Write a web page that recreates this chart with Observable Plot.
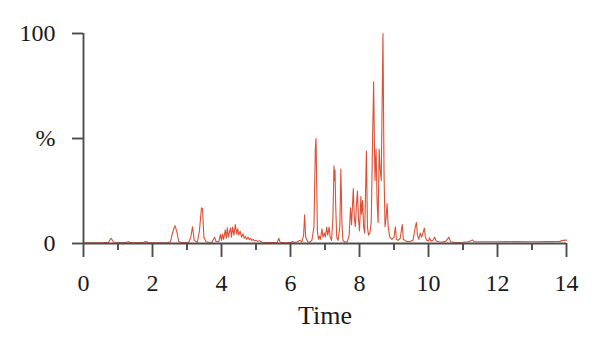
<!DOCTYPE html>
<html>
<head>
<meta charset="utf-8">
<script src="https://cdn.jsdelivr.net/npm/d3@7"></script>
<script src="https://cdn.jsdelivr.net/npm/@observablehq/plot@0.6"></script>
<style>
  html, body { margin: 0; padding: 0; background: #fff; }
  svg { display: block; }
</style>
</head>
<body>
<div id="chart"></div>
<script>
// Retention time (min)
const time = [
  0.00, 0.30, 0.60, 0.72, 0.80, 0.88, 1.00, 1.20, 1.30, 1.40, 1.70, 1.80, 1.90,
  2.40, 2.52, 2.58, 2.65, 2.70, 2.76, 2.85, 3.05, 3.11, 3.16, 3.21, 3.30, 3.36,
  3.42, 3.45, 3.49, 3.55, 3.65, 3.72, 3.80, 3.84, 3.92, 3.97, 4.00, 4.03, 4.06,
  4.11, 4.14, 4.17, 4.20, 4.26, 4.29, 4.32, 4.36, 4.40, 4.44, 4.47, 4.50, 4.54,
  4.58, 4.62, 4.66, 4.69, 4.73, 4.77, 4.81, 4.84, 4.88, 4.92, 4.96, 5.00, 5.05,
  5.10, 5.18, 5.30, 5.50, 5.62, 5.66, 5.70, 5.85, 6.00, 6.06, 6.12, 6.20, 6.28,
  6.33, 6.38, 6.41, 6.44, 6.50, 6.55, 6.62, 6.68, 6.72, 6.74, 6.76, 6.78, 6.81,
  6.84, 6.87, 6.91, 6.94, 6.98, 7.01, 7.05, 7.08, 7.12, 7.15, 7.19, 7.23, 7.26,
  7.28, 7.29, 7.31, 7.34, 7.38, 7.43, 7.46, 7.49, 7.52, 7.58, 7.65, 7.70, 7.74,
  7.77, 7.82, 7.85, 7.88, 7.91, 7.94, 7.97, 8.00, 8.04, 8.06, 8.09, 8.12, 8.15,
  8.20, 8.23, 8.26, 8.30, 8.34, 8.38, 8.41, 8.43, 8.45, 8.48, 8.51, 8.54, 8.57,
  8.60, 8.63, 8.68, 8.71, 8.74, 8.77, 8.80, 8.83, 8.88, 8.94, 9.00, 9.04, 9.07,
  9.12, 9.18, 9.24, 9.27, 9.35, 9.45, 9.55, 9.62, 9.65, 9.68, 9.72, 9.76, 9.80,
  9.84, 9.88, 9.91, 9.95, 10.00, 10.03, 10.07, 10.13, 10.18, 10.22, 10.30, 10.40,
  10.50, 10.59, 10.64, 10.80, 11.00, 11.15, 11.22, 11.27, 11.32, 11.50, 12.00,
  12.50, 13.00, 13.50, 13.80, 13.90, 14.00
];
// Relative abundance (%)
const intensity = [
  0.3, 0.3, 0.4, 0.5, 2.5, 0.5, 0.3, 0.4, 0.8, 0.3, 0.4, 0.9, 0.3,
  0.3, 0.8, 5, 8.5, 6, 1, 0.4, 0.5, 3, 8, 1.5, 0.6, 6,
  17, 16.5, 3, 0.8, 0.6, 0.5, 3, 1, 0.8, 4.3, 1.5, 4.5, 2,
  6.5, 2.5, 7.5, 3, 7.5, 3, 7.8, 4, 9, 4.5, 7, 4, 5.9,
  3, 4.6, 2.5, 3.3, 2, 3, 1.8, 2.5, 1.5, 2.0, 1.2, 1.6, 1.0,
  1.3, 0.6, 0.5, 0.4, 0.6, 2.5, 0.6, 0.3, 0.4, 1, 0.5, 0.8, 1.5,
  0.8, 4, 13.7, 3, 0.8, 0.6, 1.5, 8, 45, 50, 28, 6, 2,
  3.5, 2, 7, 3, 5, 3, 7.8, 4, 7.8, 3, 1.5, 12, 37,
  30, 35, 18, 3, 1.5, 8, 35.5, 10, 1.5, 0.6, 1, 4, 17,
  9, 26, 12, 8, 18, 25, 12, 6, 22.4, 14, 20.5, 8, 5,
  44, 8, 4, 5, 10, 50, 77, 50, 30, 45, 20, 10, 45,
  35, 30, 100, 35, 8, 12, 19, 8, 3, 2, 3, 8, 2,
  1.5, 2.5, 9, 2, 1, 0.8, 1.5, 8, 10, 4, 2, 5, 3,
  5, 7.3, 3, 1.5, 1.3, 2.7, 1.2, 1.5, 3, 1.2, 0.8, 0.7,
  1, 3, 0.8, 0.5, 0.6, 0.8, 1.2, 1.7, 0.9, 0.8, 0.8,
  0.9, 0.8, 0.9, 1.0, 1.5, 1.6
];
const xMajorTicks = [0, 2, 4, 6, 8, 10, 12, 14];
const xMinorTicks = [1, 3, 5, 7, 9, 11, 13];
const yTicks = [0, 50, 100];
const yTickLabels = ["0", "%", "100"];
const xLabel = "Time";

const data = time.map((t, i) => ({t, v: intensity[i]}));
const axisColor = "#4d4d4d";
const font = "'Liberation Serif', 'DejaVu Serif', serif";

const chart = Plot.plot({
  width: 600,
  height: 349,
  marginLeft: 83,
  marginRight: 34,
  marginTop: 33,
  marginBottom: 106,
  style: {fontFamily: font, color: "#1a1a1a", background: "#fff"},
  x: {domain: [0, 14]},
  y: {domain: [0, 100]},
  marks: [
    Plot.line(data, {x: "t", y: "v", stroke: "#d9472b", strokeWidth: 1.1, strokeOpacity: 0.95}),
    Plot.ruleX([0], {y1: 0, y2: 100, stroke: axisColor, strokeWidth: 1.9}),
    Plot.ruleY([0], {x1: 0, x2: 14, stroke: axisColor, strokeWidth: 1.9}),
    Plot.axisY({ticks: yTicks, tickSize: 11, tickPadding: 17, fontSize: 24,
      stroke: axisColor, strokeWidth: 1.9, label: null,
      tickFormat: d => yTickLabels[yTicks.indexOf(d)]}),
    Plot.axisX({ticks: xMajorTicks, tickSize: 14, tickPadding: 16, fontSize: 24,
      stroke: axisColor, strokeWidth: 1.9, label: null, tickFormat: d => String(d)}),
    Plot.axisX({ticks: xMinorTicks, tickSize: 7, stroke: axisColor, strokeWidth: 1.9,
      label: null, tickFormat: () => ""}),
    Plot.text([xLabel], {frameAnchor: "bottom", dy: 80, fontSize: 26, fill: "#1a1a1a"})
  ]
});
document.getElementById("chart").appendChild(chart);
</script>
</body>
</html>
